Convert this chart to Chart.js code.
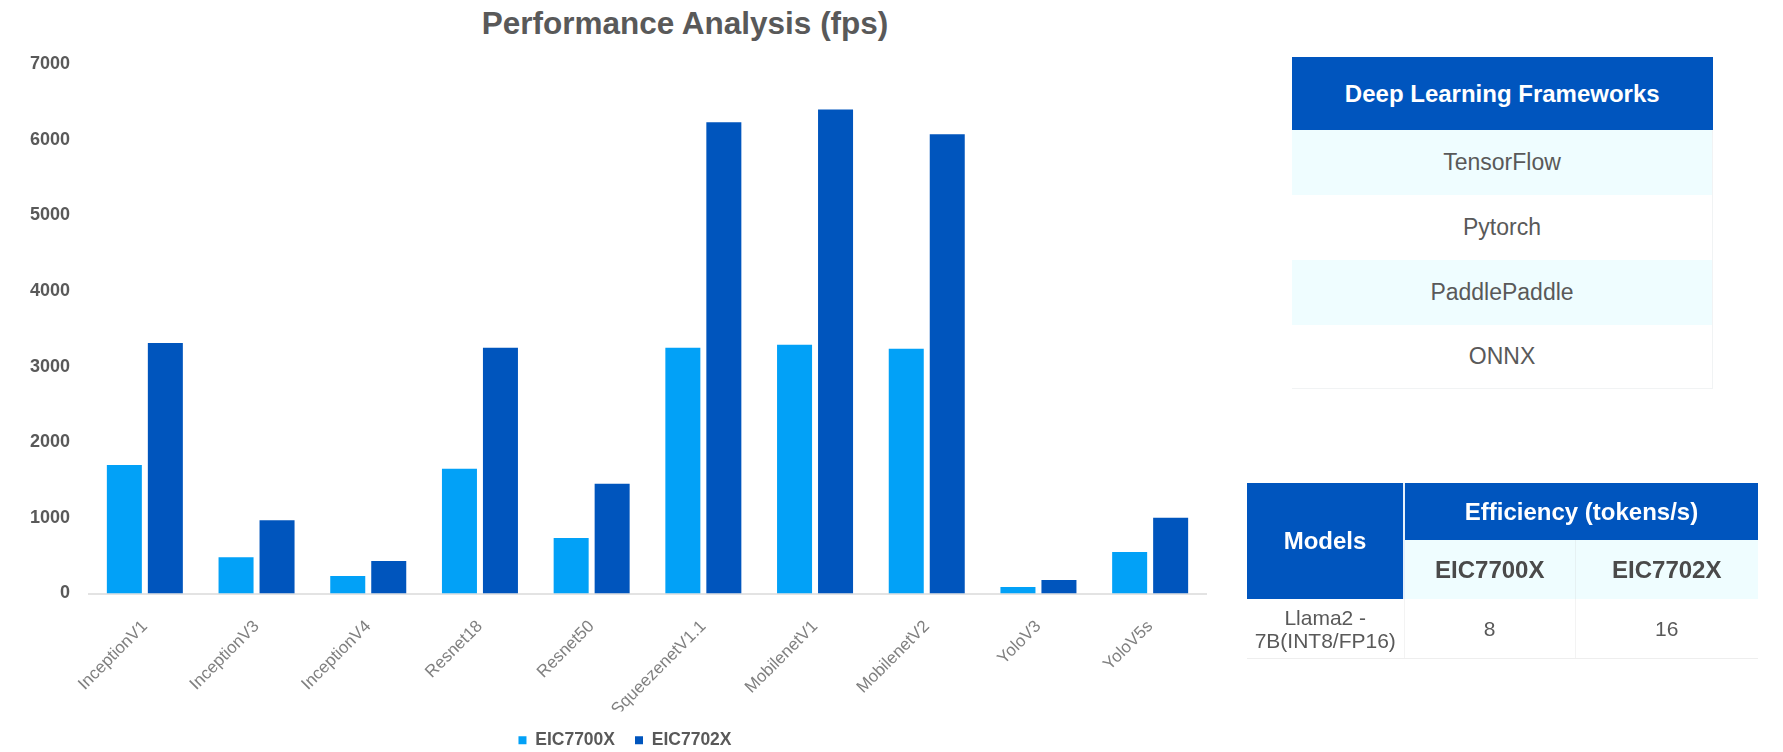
<!DOCTYPE html>
<html>
<head>
<meta charset="utf-8">
<script src="https://cdn.jsdelivr.net/npm/chart.js@4"></script>
<style>
body{margin:0;width:1783px;height:752px;background:#fff;position:relative;overflow:hidden;font-family:"Liberation Sans",Arial,sans-serif;}
#title{position:absolute;left:385px;width:600px;top:5px;text-align:center;font-size:31.5px;font-weight:bold;color:#595959;line-height:36px;}
#wrap{position:absolute;left:0;top:0;width:1250px;height:752px;}
table{position:absolute;border-collapse:collapse;table-layout:fixed;color:#595959;text-align:center;}
td,th{padding:0;}
#fw th{background:#0055be;color:#fff;font-size:24px;font-weight:bold;height:73px;}
#fw td{font-size:23px;height:65px;border-right:1px solid #f1f3f4;}
#fw tr.alt td{background:#effdff;}
#fw tr:last-child td{height:63px;border-bottom:1px solid #f1f3f4;}
#eff th{background:#0055be;color:#fff;font-size:24px;font-weight:bold;}
#eff th.model{border-right:2px solid #e4f0fb;}
#eff tr.sub td{background:#effdff;font-size:24px;font-weight:bold;color:#4a4a4a;height:59px;}
#eff tr.sub td+td{border-left:1px solid #e6f1f3;}
#eff tr.data td{font-size:21px;height:59px;line-height:23px;border-bottom:1px solid #eeeeee;}
#eff tr.data td+td{border-left:1px solid #f3f3f3;}
</style>
</head>
<body>
<div id="title">Performance Analysis (fps)</div>
<div id="wrap"><canvas id="perf"></canvas></div>
<table id="fw" style="left:1292px;top:57px;width:421px"></table>
<table id="eff" style="left:1247px;top:483px;width:511px"></table>
<script>
const FONT="'Liberation Sans', Arial, sans-serif";

// chart data
const models=["InceptionV1","InceptionV3","InceptionV4","Resnet18","Resnet50","SqueezenetV1.1","MobilenetV1","MobilenetV2","YoloV3","YoloV5s"];
const eic7700=[1700,480,230,1650,735,3250,3290,3235,85,550];
const eic7702=[3310,970,430,3250,1450,6230,6400,6070,180,1000];
const yMax=7000, yStep=1000;

// side tables
const frameworks=["TensorFlow","Pytorch","PaddlePaddle","ONNX"];
const llmName=["Llama2 -","7B(INT8/FP16)"];
const llmTokens=[8,16];
const chips=["EIC7700X","EIC7702X"];

function buildTables(){
    let h="<tr><th>Deep Learning Frameworks</th></tr>";
    frameworks.forEach((f,i)=>{
        h+="<tr"+(i%2==0?" class='alt'":"")+"><td>"+f+"</td></tr>";
    });
    document.getElementById("fw").innerHTML=h;

    let e="<colgroup><col style='width:157px'><col style='width:171px'><col style='width:183px'></colgroup>";
    e+="<tr><th class='model' rowspan='2'>Models</th><th colspan='2' style='height:57px'>Efficiency (tokens/s)</th></tr>";
    e+="<tr class='sub'><td>"+chips[0]+"</td><td>"+chips[1]+"</td></tr>";
    e+="<tr class='data'><td>"+llmName.join("<br>")+"</td><td>"+llmTokens[0]+"</td><td>"+llmTokens[1]+"</td></tr>";
    document.getElementById("eff").innerHTML=e;
}
buildTables();

// the original legend sits a bit right of the canvas centre
const legendShift={id:"legendShift",afterLayout(chart){
    chart.legend.left+=22;
    chart.legend.right+=22;
}};

new Chart(document.getElementById("perf"),{
    type:"bar",
    data:{labels:models,datasets:[
        {label:chips[0],data:eic7700,backgroundColor:"#02a1f7",borderWidth:0,categoryPercentage:0.734,barPercentage:0.854},
        {label:chips[1],data:eic7702,backgroundColor:"#0055bd",borderWidth:0,categoryPercentage:0.734,barPercentage:0.854}
    ]},
    options:{
        responsive:true,maintainAspectRatio:false,animation:false,
        layout:{padding:{left:0,right:44,top:64,bottom:-7}},
        plugins:{
            legend:{position:"bottom",labels:{boxWidth:8,boxHeight:8,padding:20,color:"#595959",font:{size:17.5,weight:"bold",family:FONT}}},
            tooltip:{enabled:false},
            title:{display:false}
        },
        scales:{
            x:{
                grid:{display:false,drawTicks:false},
                border:{display:true,color:"#e3e3e3",width:2},
                ticks:{autoSkip:false,minRotation:45,maxRotation:45,padding:23,color:"#808080",font:{size:17,family:FONT}},
                afterFit:a=>{a.height=118}
            },
            y:{
                min:0,max:yMax,
                grid:{display:false,drawTicks:false},
                border:{display:false},
                ticks:{stepSize:yStep,padding:19,color:"#595959",font:{size:18,weight:"bold",family:FONT},callback:v=>String(v)},
                afterFit:a=>{a.width=89}
            }
        }
    },
    plugins:[legendShift]
});
</script>
</body>
</html>
